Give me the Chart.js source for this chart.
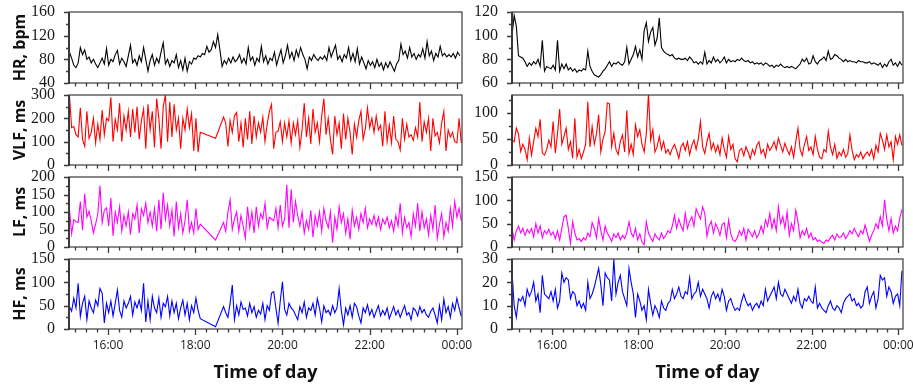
<!DOCTYPE html>
<html><head><meta charset="utf-8">
<script src="https://cdn.jsdelivr.net/npm/chart.js@4.4.0/dist/chart.umd.min.js"></script>
<style>
html,body{margin:0;padding:0;background:#fff;width:913px;height:385px;overflow:hidden;position:relative;}
canvas{position:absolute;}
</style></head><body>
<script>
// ---------- DATA ----------
const seq = (start, step, n) => Array.from({length: n}, (_, i) => start + i * step);

// time of day in minutes after 15:00
const timeLeftHR  = seq(7, 3, 180);
const timeLeftHRV = [...seq(7, 3, 61), 208, ...seq(219, 3, 110)];
const timeRight   = seq(5, 3, 181);

const timeTickValues = [60, 180, 300, 420, 540];
const timeTickLabels = ['16:00', '18:00', '20:00', '22:00', '00:00'];

const hrLeft = [
92,82,70,66,74,100,88,96,80,84, 74,80,72,66,74,82,72,98,70,80,
76,88,95,72,82,76,68,86,104,74, 80,70,86,76,100,80,60,78,88,70,
82,74,92,108,72,80,68,78,74,88, 66,78,62,82,60,76,72,82,80,86,
84,90,88,102,92,96,110,100,122,96, 68,78,72,82,74,84,76,80,88,74,
82,72,100,78,84,70,82,76,102,76, 86,72,82,78,92,70,84,96,74,86,
104,82,92,78,96,84,100,88,80,64, 84,78,88,82,78,84,80,86,78,100,
84,94,104,80,86,76,88,82,100,78, 90,76,98,72,84,74,64,78,70,76,
66,80,68,74,62,74,66,76,68,60, 72,78,106,88,94,82,100,84,90,80,
88,84,98,82,110,86,94,78,90,84, 102,86,90,84,88,84,90,82,92,86];

const vlfLeft = [
300,160,165,130,120,245,110,80,230,115, 140,200,95,175,110,235,130,200,190,290,
100,195,150,265,100,210,150,230,120,240, 140,250,110,190,240,70,260,150,230,75,
285,200,70,250,300,100,270,120,260,150, 200,70,200,150,240,160,220,60,200,55,
140,
115,
205,180,80,190,140,210,225,100,180,75, 200,110,230,90,210,120,180,140,205,100,
175,230,260,70,140,145,185,100,180,120, 190,95,180,130,190,75,150,265,120,200,
90,240,140,180,100,210,285,130,200,110, 45,210,130,180,70,220,110,200,140,45,
175,120,190,230,110,155,245,160,200,140, 210,150,170,80,230,100,170,95,210,110,
100,65,200,110,175,120,130,105,160,120, 270,100,185,140,200,60,200,125,140,95,
180,230,60,150,120,140,100,95,200,95];

const lfLeft = [
108,38,78,72,70,130,48,152,85,102, 75,40,65,95,175,70,105,112,60,140,
32,100,70,115,45,90,60,100,35,95, 80,120,40,110,90,125,70,100,60,110,
45,135,50,155,80,120,60,105,30,130, 55,95,40,75,135,45,70,40,110,50,
65,
20,
70,45,100,135,50,80,100,45,90,60, 25,115,55,100,40,115,60,95,80,125,
55,85,80,75,110,55,120,60,80,178, 55,165,70,130,90,60,100,40,75,50,
105,28,90,60,100,45,110,75,55,100, 12,85,50,115,70,95,40,80,22,105,
60,85,50,95,70,110,55,80,65,90, 60,85,50,80,65,85,55,75,45,90,
60,125,40,85,55,70,30,95,60,125, 45,100,55,80,35,90,50,120,25,65,
95,30,70,45,110,60,130,85,110,75];

const hfLeft = [
48,38,66,45,98,27,55,70,20,60, 45,35,62,50,87,77,13,55,35,60,
28,55,84,40,25,60,45,55,70,30, 58,45,62,40,98,15,60,20,70,45,
35,66,25,55,48,70,28,60,35,55, 22,45,62,30,55,20,50,35,66,40,
22,
5,
48,35,25,55,94,20,50,30,58,42, 45,28,55,35,48,25,40,32,55,20,
50,40,77,80,45,12,60,101,42,30, 55,45,40,30,20,48,35,58,25,45,
40,55,30,65,45,15,50,35,40,30, 50,35,45,87,40,9,45,30,50,25,
55,48,28,13,45,35,52,30,42,25, 38,50,28,40,30,45,22,35,48,30,
40,25,38,50,30,35,20,45,40,28, 48,35,42,30,25,38,45,30,13,50,
20,64,35,48,25,55,40,66,45,27];

const hrRight = [
100,117,108,83,82,81,78,74,77,75, 78,76,80,74,96,70,74,73,72,75,
71,96,70,76,72,76,71,73,70,72, 69,71,70,72,71,87,74,70,67,66,
65,67,70,72,75,78,74,77,76,78, 76,75,78,90,76,80,84,91,82,88,
80,104,111,95,103,107,92,98,115,90, 87,85,84,83,84,81,80,81,80,80,
81,79,82,80,77,78,76,78,76,86, 76,79,77,82,78,80,77,79,82,77,
80,78,79,78,80,79,81,79,78,79, 77,78,76,77,76,77,75,77,76,74,
75,73,75,74,76,74,73,74,73,74, 73,72,74,76,80,78,81,76,77,83,
78,76,79,80,82,79,87,80,81,84, 83,81,80,78,80,78,79,78,78,77,
79,78,78,77,77,78,76,77,76,75, 77,73,76,74,78,80,75,77,74,78,75];

const vlfRight = [
48,45,71,60,26,40,30,10,52,19, 45,71,55,88,23,19,30,48,35,84,
23,60,108,40,55,71,30,45,13,90, 15,30,12,25,40,122,35,74,40,60,
97,25,50,65,120,118,35,61,30,20, 45,58,25,105,22,40,20,77,55,68,
40,25,60,138,48,68,25,35,55,30, 45,23,30,20,32,40,28,13,35,42,
28,45,20,38,48,30,50,84,35,22, 45,61,30,42,25,38,20,52,30,15,
55,30,40,12,6,28,32,18,35,25, 12,30,20,38,45,22,30,15,40,28,
35,45,30,52,38,25,42,30,20,35, 15,45,71,30,18,40,55,28,35,20,
55,30,15,12,30,25,65,35,20,40, 13,25,18,30,15,22,58,28,10,20,
15,25,12,20,25,18,30,12,38,25, 61,48,30,58,35,45,10,55,40,58,38];

const lfRight = [
40,15,35,45,30,40,25,38,30,40, 22,50,30,45,20,35,28,38,25,32,
18,35,15,40,65,68,40,8,54,30, 15,18,12,20,15,30,22,52,40,20,
61,35,15,45,30,22,12,28,20,30, 15,25,18,30,54,30,22,40,15,28,
10,5,54,30,20,12,28,20,15,30, 18,25,35,30,45,68,40,60,45,35,
72,40,55,65,45,82,70,60,86,72, 23,45,55,30,50,40,25,48,52,20,
58,28,15,12,20,35,25,40,15,38, 30,22,35,20,28,45,30,58,45,72,
40,60,35,86,50,65,40,75,25,50, 35,79,55,20,35,25,40,20,30,15,
20,12,15,10,8,15,12,20,25,15, 28,20,22,30,18,25,35,28,40,30,
22,35,28,47,30,12,25,35,50,40, 65,45,101,60,35,61,30,45,35,62,80];

const hfRight = [
25,10,5,13,12,14,10,17,14,16, 20,12,15,7,23,15,14,13,16,12,
17,9,12,24,20,22,21,13,16,15, 10,12,9,11,8,20,13,15,18,22,
26,19,10,24,22,21,12,30,15,20, 23,16,13,10,26,20,15,5,15,12,
8,10,4,17,11,6,10,8,5,12, 9,8,11,12,17,13,15,18,14,13,
16,15,22,13,15,16,20,14,17,15, 13,9,14,16,13,15,12,17,14,8,
12,13,10,8,9,8,12,15,12,10, 11,8,10,11,9,12,10,17,12,14,
16,18,13,20,15,14,17,15,13,11, 14,12,17,11,9,13,12,14,12,11,
18,9,11,9,8,7,10,12,9,8, 10,9,7,11,13,14,15,12,13,10,
11,9,10,16,18,11,14,16,9,13, 23,21,22,14,18,16,11,14,15,10,25];

const yTitles = ['HR, bpm', 'VLF, ms', 'LF, ms', 'HF, ms'];
const yTicksLeft  = [[40,80,120,160],[0,100,200,300],[0,50,100,150,200],[0,50,100,150]];
const yTicksRight = [[60,80,100,120],[0,50,100],[0,50,100,150],[0,10,20,30]];
const yMinorLeft  = [20, 50, 25, 25];
const yMinorRight = [10, 25, 25, 5];

// ---------- LAYOUT ----------
const YW = 60, PT = 10, PR = 16;
const cols = [
  {plotLeft: 69, plotRight: 462, xmin: 6.4, xmax: 547},
  {plotLeft: 512, plotRight: 903, xmin: 5, xmax: 546.5}
];
const rows = [
  {top: 12, h: 71}, {top: 95, h: 70}, {top: 177, h: 70}, {top: 259, h: 70}
];
const serif = "'Liberation Serif', 'Times New Roman', 'DejaVu Serif', serif";
const sans = "'Open Sans', 'Liberation Sans', sans-serif";

const framePlugin = {
  id: 'frame',
  afterDatasetsDraw(chart) {
    const cfg = chart.options.plugins.frame;
    const {ctx, chartArea: a, scales: {x, y}} = chart;
    ctx.save();
    ctx.strokeStyle = '#3a3a3a';
    ctx.lineWidth = 1.2;
    ctx.strokeRect(a.left, a.top, a.right - a.left, a.bottom - a.top);
    ctx.lineWidth = 2;
    ctx.beginPath();
    ctx.moveTo(a.left, a.top); ctx.lineTo(a.left, a.bottom + 1);
    ctx.stroke();
    ctx.lineWidth = 1.3;
    ctx.beginPath();
    for (let t = 15; t <= x.max; t += 15) {
      if (t < x.min) continue;
      const px = Math.round(x.getPixelForValue(t)) + 0.5;
      const len = ((t - 60) % 120 === 0) ? 6 : 3.5;
      ctx.moveTo(px, a.bottom); ctx.lineTo(px, a.bottom + len);
    }
    for (let v = y.min; v <= y.max + 1e-9; v += cfg.minor) {
      const py = Math.round(y.getPixelForValue(v)) + 0.5;
      const major = cfg.major.includes(v);
      const len = major ? 5 : 3;
      ctx.moveTo(a.left, py); ctx.lineTo(a.left - len, py);
    }
    ctx.stroke();
    ctx.restore();
  }
};

const panels = [
  {col: 0, row: 0, times: timeLeftHR,  vals: hrLeft,  color: '#000000', min: 40, max: 160, ticks: yTicksLeft[0],  minor: yMinorLeft[0]},
  {col: 0, row: 1, times: timeLeftHRV, vals: vlfLeft, color: '#ff0000', min: 0,  max: 300, ticks: yTicksLeft[1],  minor: yMinorLeft[1]},
  {col: 0, row: 2, times: timeLeftHRV, vals: lfLeft,  color: '#ff00ff', min: 0,  max: 200, ticks: yTicksLeft[2],  minor: yMinorLeft[2]},
  {col: 0, row: 3, times: timeLeftHRV, vals: hfLeft,  color: '#0000ff', min: 0,  max: 150, ticks: yTicksLeft[3],  minor: yMinorLeft[3]},
  {col: 1, row: 0, times: timeRight,   vals: hrRight, color: '#000000', min: 60, max: 120, ticks: yTicksRight[0], minor: yMinorRight[0]},
  {col: 1, row: 1, times: timeRight,   vals: vlfRight,color: '#ff0000', min: 0,  max: 135, ticks: yTicksRight[1], minor: yMinorRight[1]},
  {col: 1, row: 2, times: timeRight,   vals: lfRight, color: '#ff00ff', min: 0,  max: 150, ticks: yTicksRight[2], minor: yMinorRight[2]},
  {col: 1, row: 3, times: timeRight,   vals: hfRight, color: '#0000ff', min: 0,  max: 30,  ticks: yTicksRight[3], minor: yMinorRight[3]}
];

panels.forEach((p) => {
  const c = cols[p.col], r = rows[p.row];
  const isBottom = p.row === 3, isLeft = p.col === 0;
  const XH = isBottom ? (385 - (r.top + r.h)) : 8;
  const plotW = c.plotRight - c.plotLeft;
  const W = YW + plotW + PR, H = PT + r.h + XH;
  const cv = document.createElement('canvas');
  cv.width = W; cv.height = H;
  cv.style.left = (c.plotLeft - YW) + 'px';
  cv.style.top = (r.top - PT) + 'px';
  cv.style.width = W + 'px'; cv.style.height = H + 'px';
  document.body.appendChild(cv);

  new Chart(cv.getContext('2d'), {
    type: 'line',
    data: {
      datasets: [{
        data: p.times.map((t, i) => ({x: t, y: p.vals[i]})),
        borderColor: p.color, borderWidth: 1.1, pointRadius: 0, tension: 0, fill: false
      }]
    },
    options: {
      responsive: false, animation: false, devicePixelRatio: 1,
      layout: {padding: {top: PT, right: PR, left: 0, bottom: 0}},
      plugins: {legend: {display: false}, tooltip: {enabled: false},
                frame: {minor: p.minor, major: p.ticks}},
      events: [],
      scales: {
        x: {
          type: 'linear', min: c.xmin, max: c.xmax,
          grid: {display: false}, border: {display: false},
          afterBuildTicks: s => { s.ticks = timeTickValues.map(v => ({value: v})); },
          ticks: {
            display: isBottom, autoSkip: false, maxRotation: 0, minRotation: 0,
            callback: (v) => { const k = timeTickValues.indexOf(v); return k >= 0 ? timeTickLabels[k] : ''; },
            font: {family: sans, size: 12}, color: '#1a1a1a', padding: 1
          },
          title: {display: isBottom, text: 'Time of day', color: '#111',
                  font: {family: sans, size: 18, weight: 'bold'}, padding: {top: 0, bottom: 1}},
          afterFit: s => { s.height = XH; s.paddingLeft = 0; s.paddingRight = 0; }
        },
        y: {
          min: p.min, max: p.max,
          grid: {display: false}, border: {display: false},
          afterBuildTicks: s => { s.ticks = p.ticks.map(v => ({value: v})); },
          ticks: {
            autoSkip: false,
            font: {family: serif, size: 16}, color: '#1a1a1a', padding: 6
          },
          title: {display: isLeft, text: yTitles[p.row], color: '#111',
                  font: {family: sans, size: 16, weight: 'bold'}, padding: {top: 2, bottom: 0}},
          afterFit: s => { s.width = YW; s.paddingTop = 0; s.paddingBottom = 0; }
        }
      }
    },
    plugins: [framePlugin]
  });
});
</script>
</body></html>
